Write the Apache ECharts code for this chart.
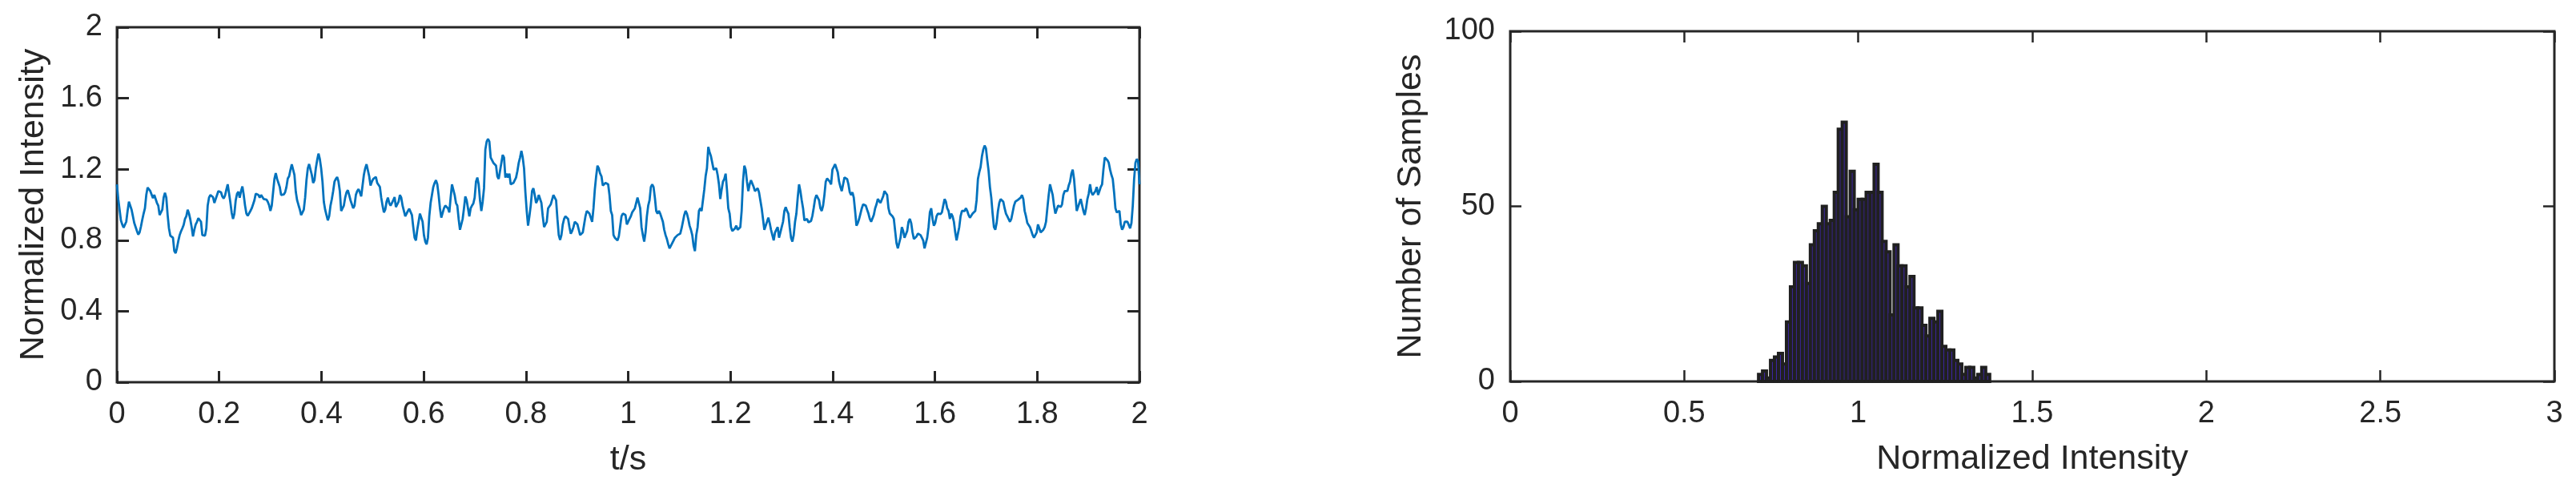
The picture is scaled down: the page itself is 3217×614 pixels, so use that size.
<!DOCTYPE html>
<html>
<head>
<meta charset="utf-8">
<title>Normalized Intensity</title>
<script src="https://cdn.jsdelivr.net/npm/echarts@6.0.0/dist/echarts.min.js"></script>
<style>
  html, body { margin: 0; padding: 0; background: #fff; }
  #main { width: 3217px; height: 614px; }
</style>
</head>
<body>
<div id="main"></div>
<script>
// intensity trace, 767 samples over 0..2 s
const sampleDt = 2 / 766;
const intensity = [
  1.115, 1.032, 0.972, 0.912, 0.889, 0.871, 0.874, 0.904, 0.965, 1.017,
  1.010, 0.972, 0.935, 0.897, 0.892, 0.852, 0.832, 0.844, 0.877, 0.915,
  0.950, 0.980, 1.055, 1.097, 1.097, 1.077, 1.073, 1.037, 1.055, 1.052,
  1.010, 0.995, 0.942, 0.944, 0.972, 1.040, 1.067, 1.040, 0.942, 0.867,
  0.826, 0.822, 0.814, 0.739, 0.727, 0.757, 0.796, 0.829, 0.850, 0.867,
  0.886, 0.920, 0.935, 0.972, 0.950, 0.917, 0.874, 0.822, 0.859, 0.889,
  0.904, 0.924, 0.927, 0.904, 0.829, 0.822, 0.826, 0.867, 0.995, 1.040,
  1.055, 1.049, 1.043, 1.010, 1.032, 1.040, 1.077, 1.082, 1.070, 1.046,
  1.035, 1.052, 1.085, 1.115, 1.115, 1.013, 0.954, 0.920, 0.950, 1.025,
  1.062, 1.073, 1.040, 1.077, 1.103, 1.055, 0.995, 0.950, 0.938, 0.947,
  0.965, 0.980, 1.002, 1.025, 1.062, 1.068, 1.055, 1.040, 1.055, 1.047,
  1.032, 1.038, 1.029, 1.017, 0.998, 0.965, 0.995, 1.070, 1.145, 1.178,
  1.145, 1.123, 1.100, 1.055, 1.055, 1.058, 1.070, 1.100, 1.148, 1.160,
  1.196, 1.228, 1.231, 1.168, 1.073, 1.025, 0.999, 0.974, 0.942, 0.957,
  0.972, 1.040, 1.138, 1.205, 1.229, 1.220, 1.168, 1.123, 1.138, 1.205,
  1.251, 1.288, 1.258, 1.205, 1.130, 1.017, 0.972, 0.942, 0.912, 0.935,
  0.995, 1.032, 1.077, 1.130, 1.145, 1.156, 1.130, 1.077, 0.965, 0.957,
  0.995, 1.040, 1.070, 1.082, 1.055, 1.025, 1.032, 0.980, 0.995, 1.055,
  1.077, 1.088, 1.070, 1.047, 1.055, 1.168, 1.205, 1.228, 1.223, 1.160,
  1.108, 1.130, 1.145, 1.138, 1.157, 1.123, 1.115, 1.100, 1.040, 0.995,
  0.957, 0.972, 1.017, 1.040, 1.010, 0.995, 1.010, 1.025, 1.043, 0.987,
  0.983, 1.017, 1.055, 1.040, 0.995, 0.987, 0.935, 0.938, 0.965, 0.977,
  0.980, 0.942, 0.874, 0.814, 0.799, 0.859, 0.904, 0.950, 0.957, 0.904,
  0.829, 0.792, 0.777, 0.814, 0.935, 1.010, 1.055, 1.100, 1.123, 1.138,
  1.115, 1.055, 0.980, 0.927, 0.920, 0.980, 0.995, 0.987, 0.980, 0.957,
  1.040, 1.115, 1.115, 1.055, 1.010, 0.995, 0.920, 0.859, 0.867, 0.920,
  // 0.68 s
  0.980, 1.047, 1.025, 0.980, 0.935, 0.980, 0.995, 1.007, 1.040, 1.130,
  1.153, 1.115, 1.025, 0.965, 1.017, 1.093, 1.311, 1.356, 1.371, 1.356,
  1.266, 1.251, 1.236, 1.243, 1.220, 1.160, 1.145, 1.153, 1.236, 1.281,
  1.266, 1.153, 1.175, 1.153, 1.175, 1.115, 1.108, 1.123, 1.130, 1.153,
  1.190, 1.236, 1.266, 1.303, 1.266, 1.205, 1.070, 0.965, 0.882, 0.935,
  0.995, 1.077, 1.093, 1.055, 1.010, 1.025, 1.055, 1.055, 1.010, 0.935,
  0.874, 0.882, 0.904, 0.980, 0.987, 1.002, 1.010, 1.055, 1.055, 1.025,
  0.920, 0.829, 0.802, 0.829, 0.889, 0.920, 0.935, 0.927, 0.920, 0.874,
  0.837, 0.852, 0.874, 0.904, 0.904, 0.889, 0.859, 0.829, 0.829, 0.844,
  0.889, 0.935, 0.965, 0.965, 0.950, 0.942, 0.904, 0.980, 1.085, 1.160,
  1.220, 1.205, 1.175, 1.160, 1.108, 1.115, 1.123, 1.123, 1.115, 1.055,
  0.965, 0.942, 0.829, 0.814, 0.814, 0.799, 0.822, 0.829, 0.935, 0.950,
  0.950, 0.942, 0.889, 0.904, 0.920, 0.935, 0.957, 0.965, 0.980, 0.980,
  1.040, 1.040, 0.980, 0.874, 0.829, 0.792, 0.844, 0.935, 0.995, 1.025,
  1.100, 1.115, 1.100, 1.040, 0.965, 0.950, 0.965, 0.950, 0.957, 0.904,
  0.859, 0.829, 0.807, 0.777, 0.754, 0.754, 0.784, 0.799, 0.814, 0.822,
  0.829, 0.822, 0.837, 0.867, 0.904, 0.942, 0.965, 0.950, 0.920, 0.882,
  0.859, 0.829, 0.769, 0.739, 0.829, 0.874, 0.965, 0.980, 0.965, 1.025,
  1.085, 1.160, 1.205, 1.326, 1.296, 1.273, 1.266, 1.198, 1.198, 1.205,
  1.168, 1.115, 1.032, 1.085, 1.130, 1.145, 1.175, 1.085, 0.980, 0.950,
  0.874, 0.852, 0.859, 0.867, 0.882, 0.859, 0.852, 0.874, 0.965, 1.130,
  1.220, 1.198, 1.130, 1.077, 1.115, 1.138, 1.130, 1.100, 1.077, 1.077,
  1.093, 1.070, 1.025, 0.980, 0.920, 0.859, 0.867, 0.904, 0.927, 0.897,
  0.859, 0.829, 0.799, 0.844, 0.859, 0.874, 0.814, 0.844, 0.874, 0.904,
  0.965, 0.987, 0.965, 0.950, 0.874, 0.814, 0.792, 0.829, 0.904, 0.950,
  1.040, 1.115, 1.077, 1.025, 0.980, 0.912, 0.904, 0.920,
  // 1.35 s
  0.901, 0.904, 0.909, 0.938, 0.983, 1.032, 1.055, 1.055, 1.025, 0.980,
  0.965, 0.995, 1.055, 1.130, 1.148, 1.145, 1.130, 1.115, 1.198, 1.213,
  1.228, 1.220, 1.183, 1.130, 1.100, 1.077, 1.115, 1.153, 1.160, 1.145,
  1.115, 1.070, 1.055, 1.070, 1.040, 0.965, 0.882, 0.897, 0.920, 0.950,
  0.980, 1.002, 1.010, 0.995, 0.972, 0.950, 0.920, 0.904, 0.912, 0.942,
  0.980, 1.002, 1.032, 1.040, 1.010, 1.010, 1.047, 1.077, 1.085, 1.055,
  0.980, 0.950, 0.942, 0.935, 0.920, 0.852, 0.784, 0.754, 0.762, 0.814,
  0.874, 0.852, 0.814, 0.822, 0.852, 0.904, 0.920, 0.897, 0.844, 0.807,
  0.807, 0.822, 0.837, 0.837, 0.829, 0.814, 0.799, 0.754, 0.762, 0.814,
  0.874, 0.957, 0.980, 0.920, 0.882, 0.897, 0.935, 0.950, 0.950, 0.947,
  0.957, 0.995, 1.032, 1.017, 0.980, 0.965, 0.920, 0.950, 0.935, 0.904,
  0.844, 0.799, 0.837, 0.874, 0.935, 0.965, 0.957, 0.965, 0.980, 0.965,
  0.942, 0.927, 0.935, 0.950, 0.942, 0.965, 1.025, 1.145, 1.183, 1.213,
  1.273, 1.311, 1.333, 1.318, 1.251, 1.190, 1.100, 1.040, 0.950, 0.874,
  0.859, 0.897, 0.965, 1.010, 1.032, 1.040, 1.017, 0.980, 0.950, 0.935,
  0.927, 0.904, 0.920, 0.957, 0.995, 1.017, 1.025, 1.028, 1.032, 1.040,
  1.055, 1.032, 0.965, 0.935, 0.897, 0.889, 0.874, 0.852, 0.829, 0.814,
  0.814, 0.844, 0.889, 0.867, 0.844, 0.844, 0.859, 0.874, 0.904, 0.980,
  1.055, 1.115, 1.115, 1.055, 0.995, 0.950, 0.950, 0.995, 0.987, 0.987,
  1.002, 1.055, 1.077, 1.085, 1.077, 1.108, 1.130, 1.175, 1.198, 1.145,
  1.055, 0.965, 0.957, 1.010, 1.032, 1.025, 0.965, 0.942, 0.980, 1.032,
  1.062, 1.115, 1.070, 1.055, 1.062, 1.077, 1.100, 1.055, 1.077, 1.100,
  1.115, 1.198, 1.266, 1.266, 1.251, 1.236, 1.198, 1.168, 1.145, 1.070,
  0.980, 0.957, 0.950, 0.965, 0.889, 0.859, 0.874, 0.904, 0.912, 0.904,
  0.904, 0.867, 0.897, 0.995, 1.145, 1.236, 1.258, 1.243, 1.115
];

// histogram: 58 equal bins
const histStart = 0.7135;
const histBinWidth = 0.01145;
const histCounts = [
  2, 3, 1, 6, 7, 8, 5, 17, 27, 34,
  34, 33, 28, 39, 43, 45, 50, 45, 46, 54,
  72, 74, 47, 60, 49, 52, 52, 54, 54, 62,
  54, 40, 37, 19, 39, 33, 33, 27, 30, 21,
  21, 16, 13, 18, 17, 20, 10, 9, 9, 6,
  5, 2, 4, 4, 1, 2, 4, 2
];

const axisColor = '#262626';
const fontFamily = '"Liberation Sans", Arial, Helvetica, sans-serif';
const tickFont = 38;
const nameFont = 43;

let myChart = echarts.init(document.getElementById('main'));

function tickStyle(len, w) {
  return { show: true, inside: true, length: len, lineStyle: { color: axisColor, width: w } };
}
// box axes: keep every axis on its own edge
const noLine = { show: false, onZero: false };

let lineData = intensity.map(function (v, i) { return [i * sampleDt, v]; });
let histData = histCounts.map(function (c, i) {
  return [histStart + i * histBinWidth, histStart + (i + 1) * histBinWidth, c];
});

let labelStyle = { show: true, color: axisColor, fontSize: tickFont, fontFamily: fontFamily };
let nameStyle = { color: axisColor, fontSize: nameFont, fontFamily: fontFamily };

let option = {
  animation: false,
  backgroundColor: '#fff',
  grid: [
    { left: 146, top: 34, width: 1277, height: 443, show: true, borderColor: axisColor, borderWidth: 3,
      containLabel: false, outerBoundsMode: 'none' },
    { left: 1886, top: 39, width: 1304, height: 437, show: true, borderColor: axisColor, borderWidth: 3,
      containLabel: false, outerBoundsMode: 'none' }
  ],
  xAxis: [
    {
      gridIndex: 0, type: 'value', min: 0, max: 2, interval: 0.2, position: 'bottom',
      axisLine: noLine, axisTick: tickStyle(14, 3), splitLine: { show: false },
      axisLabel: Object.assign({ margin: 22 }, labelStyle),
      name: 't/s', nameLocation: 'middle', nameGap: 76, nameTextStyle: nameStyle
    },
    {
      gridIndex: 0, type: 'value', min: 0, max: 2, interval: 0.2, position: 'top',
      axisLine: noLine, axisTick: tickStyle(14, 3), splitLine: { show: false },
      axisLabel: { show: false }
    },
    {
      gridIndex: 1, type: 'value', min: 0, max: 3, interval: 0.5, position: 'bottom',
      axisLine: noLine, axisTick: tickStyle(14, 2.5), splitLine: { show: false },
      axisLabel: Object.assign({ margin: 22 }, labelStyle),
      name: 'Normalized Intensity', nameLocation: 'middle', nameGap: 76, nameTextStyle: nameStyle
    },
    {
      gridIndex: 1, type: 'value', min: 0, max: 3, interval: 0.5, position: 'top',
      axisLine: noLine, axisTick: tickStyle(14, 2.5), splitLine: { show: false },
      axisLabel: { show: false }
    }
  ],
  yAxis: [
    {
      gridIndex: 0, type: 'value', min: 0, max: 2, interval: 0.4, position: 'left',
      axisLine: noLine, axisTick: tickStyle(15, 3), splitLine: { show: false },
      axisLabel: Object.assign({ margin: 18 }, labelStyle),
      name: 'Normalized Intensity', nameLocation: 'middle', nameGap: 82, nameTextStyle: nameStyle
    },
    {
      gridIndex: 0, type: 'value', min: 0, max: 2, interval: 0.4, position: 'right',
      axisLine: noLine, axisTick: tickStyle(15, 3), splitLine: { show: false },
      axisLabel: { show: false }
    },
    {
      gridIndex: 1, type: 'value', min: 0, max: 100, interval: 50, position: 'left',
      axisLine: noLine, axisTick: tickStyle(14, 2.5), splitLine: { show: false },
      axisLabel: Object.assign({ margin: 19 }, labelStyle),
      name: 'Number of Samples', nameLocation: 'middle', nameGap: 102, nameTextStyle: nameStyle
    },
    {
      gridIndex: 1, type: 'value', min: 0, max: 100, interval: 50, position: 'right',
      axisLine: noLine, axisTick: tickStyle(14, 2.5), splitLine: { show: false },
      axisLabel: { show: false }
    }
  ],
  series: [
    {
      name: 'intensity', type: 'line', xAxisIndex: 0, yAxisIndex: 0,
      data: lineData, showSymbol: false, symbol: 'none',
      lineStyle: { color: '#0072BD', width: 2.8 }
    },
    {
      name: 'histogram', type: 'custom', xAxisIndex: 2, yAxisIndex: 2,
      data: histData,
      encode: { x: [0, 1], y: 2 },
      renderItem: function (params, api) {
        let p0 = api.coord([api.value(0), api.value(2)]);
        let p1 = api.coord([api.value(1), 0]);
        return {
          type: 'rect',
          shape: { x: p0[0], y: p0[1], width: p1[0] - p0[0], height: p1[1] - p0[1] },
          style: { fill: '#3e26a8', stroke: '#202020', lineWidth: 4 }
        };
      }
    }
  ]
};

myChart.setOption(option);
</script>
</body>
</html>
